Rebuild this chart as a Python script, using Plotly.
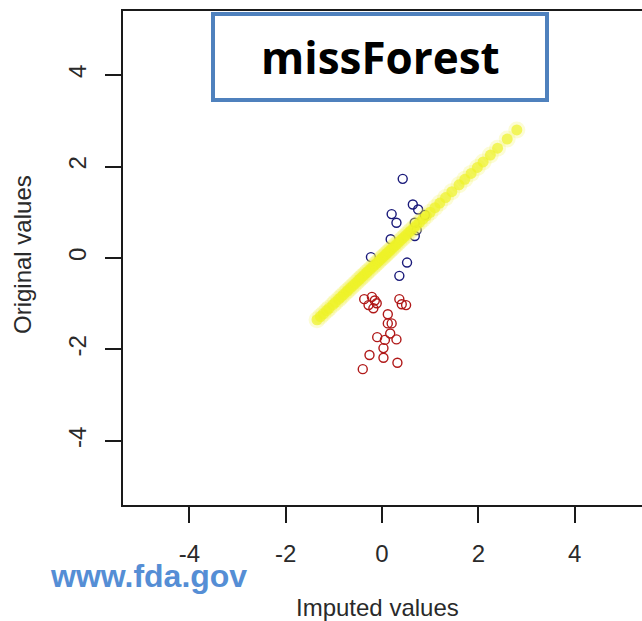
import plotly.graph_objects as go

# Observed (non-missing) values: imputed equals original -> on the diagonal
observed_imputed = [-1.35, -1.28, -1.22, -1.15, -1.10, -1.02, -0.97, -0.90, -0.85, -0.80,
                    -0.74, -0.70, -0.65, -0.60, -0.55, -0.50, -0.46, -0.42, -0.38, -0.33,
                    -0.30, -0.25, -0.20, -0.16, -0.12, -0.08, -0.04, 0.00, 0.03, 0.07,
                    0.10, 0.14, 0.18, 0.22, 0.26, 0.30, 0.35, 0.40, 0.45, 0.50,
                    0.55, 0.60, 0.66, 0.72, 0.78, 0.85, 0.92, 1.00, 1.10, 1.20,
                    1.32, 1.45, 1.60, 1.72, 1.85, 1.98, 2.10, 2.25, 2.40, 2.60, 2.80]
observed_original = [-1.35, -1.28, -1.22, -1.15, -1.10, -1.02, -0.97, -0.90, -0.85, -0.80,
                     -0.74, -0.70, -0.65, -0.60, -0.55, -0.50, -0.46, -0.42, -0.38, -0.33,
                     -0.30, -0.25, -0.20, -0.16, -0.12, -0.08, -0.04, 0.00, 0.03, 0.07,
                     0.10, 0.14, 0.18, 0.22, 0.26, 0.30, 0.35, 0.40, 0.45, 0.50,
                     0.55, 0.60, 0.66, 0.72, 0.78, 0.85, 0.92, 1.00, 1.10, 1.20,
                     1.32, 1.45, 1.60, 1.72, 1.85, 1.98, 2.10, 2.25, 2.40, 2.60, 2.80]

# Imputed missing values (blue group)
blue_imputed = [0.43, 0.64, 0.75, 0.20, 0.30, 0.18, 0.68, 0.72, 0.68, 0.89, -0.23, 0.52, 0.36]
blue_original = [1.73, 1.17, 1.06, 0.96, 0.77, 0.41, 0.77, 0.61, 0.48, 0.94, 0.02, -0.10, -0.39]

# Imputed missing values (red group)
red_imputed = [-0.37, -0.21, -0.28, -0.18, -0.11, -0.15, 0.36, 0.41, 0.50, 0.12, 0.12, 0.20,
               -0.10, 0.17, 0.30, 0.06, 0.03, -0.26, 0.03, 0.32, -0.40]
red_original = [-0.90, -0.85, -1.03, -1.10, -0.99, -0.93, -0.90, -1.01, -1.03, -1.23, -1.43, -1.43,
                -1.73, -1.65, -1.78, -1.79, -1.97, -2.12, -2.18, -2.29, -2.43]

tick_vals = [-4, -2, 0, 2, 4]
tick_text = ["-4", "-2", "0", "2", "4"]

title_text = "missForest"
x_title = "Imputed values"
y_title = "Original values"
source_text = "www.fda.gov"

# plot area in pixels
L, R, T, B = 123, 642, 11, 505
W, H = R - L, B - T


def px(x):
    return (x - L) / W


def py(y):
    return (B - y) / H


fig = go.Figure()

fig.add_trace(go.Scatter(
    x=red_imputed, y=red_original, mode="markers",
    marker=dict(symbol="circle-open", size=9, color="#b01818", line=dict(width=1.4)),
    showlegend=False, hoverinfo="skip"))
fig.add_trace(go.Scatter(
    x=blue_imputed, y=blue_original, mode="markers",
    marker=dict(symbol="circle-open", size=9, color="#1a1a7a", line=dict(width=1.4)),
    showlegend=False, hoverinfo="skip"))
# soft glow
fig.add_trace(go.Scatter(
    x=observed_imputed, y=observed_original, mode="markers",
    marker=dict(symbol="circle", size=17, color="rgba(240,240,70,0.22)", line=dict(width=0)),
    showlegend=False, hoverinfo="skip"))
fig.add_trace(go.Scatter(
    x=observed_imputed, y=observed_original, mode="markers",
    marker=dict(symbol="circle", size=11, color="rgba(238,242,40,0.7)", line=dict(width=0)),
    showlegend=False, hoverinfo="skip"))

axis_font = dict(family="Liberation Sans, Arial, sans-serif", size=24, color="#2a2a2a")

fig.update_layout(
    width=642, height=621,
    margin=dict(l=L, r=642 - R, t=T, b=621 - B),
    paper_bgcolor="white", plot_bgcolor="white",
    showlegend=False,
    xaxis=dict(range=[-5.38, 5.4], tickvals=tick_vals, ticktext=tick_text,
               automargin=False,
               showgrid=False, zeroline=False, showline=True, mirror=True,
               linecolor="#1a1a1a", linewidth=2,
               ticks="outside", ticklen=16, tickwidth=1.5, tickcolor="#1a1a1a",
               tickfont=axis_font, ticklabelstandoff=10),
    yaxis=dict(range=[-5.4, 5.4], tickvals=tick_vals, ticktext=tick_text,
               automargin=False,
               showgrid=False, zeroline=False, showline=True, mirror=False,
               linecolor="#1a1a1a", linewidth=2,
               ticks="outside", ticklen=16, tickwidth=1.5, tickcolor="#1a1a1a",
               tickfont=axis_font, tickangle=-90, ticklabelstandoff=9),
    shapes=[dict(type="rect", xref="paper", yref="paper",
                 x0=px(213), x1=px(547), y0=py(100), y1=py(14),
                 line=dict(color="#4f81bd", width=4), fillcolor="white", layer="above")],
    annotations=[
        dict(text="<b>" + title_text + "</b>", xref="paper", yref="paper",
             x=px(380), y=py(57), showarrow=False,
             xanchor="center", yanchor="middle",
             font=dict(family="Open Sans, sans-serif", size=44, color="black")),
        dict(text="<b>" + source_text + "</b>", xref="paper", yref="paper",
             x=px(48), y=py(576), showarrow=False,
             xanchor="left", yanchor="middle",
             font=dict(family="Liberation Sans, Arial, sans-serif", size=32, color="#558ed5")),
        dict(text=x_title, xref="paper", yref="paper",
             x=px(377), y=py(607), showarrow=False,
             xanchor="center", yanchor="middle", font=axis_font),
        dict(text=y_title, xref="paper", yref="paper",
             x=px(22), y=py(255), showarrow=False, textangle=-90,
             xanchor="center", yanchor="middle", font=axis_font),
    ],
)

fig.write_html("out.html",
               config={"displayModeBar": False},
               post_script="document.body.style.margin='0';document.body.style.overflow='hidden';")
